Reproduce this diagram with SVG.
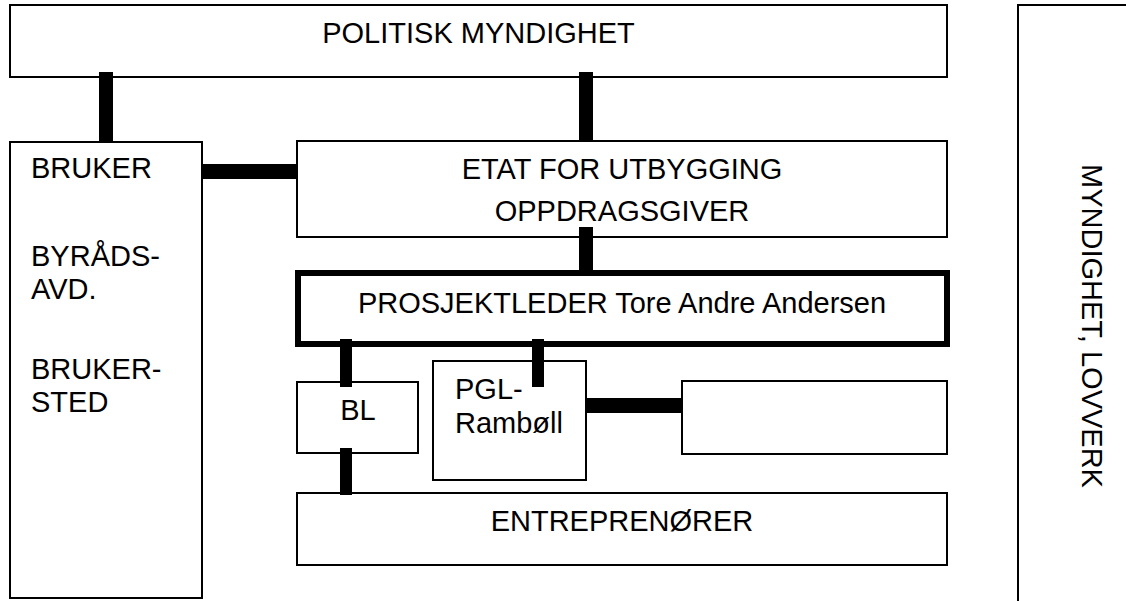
<svg xmlns="http://www.w3.org/2000/svg" width="1126" height="601" viewBox="0 0 1126 601">
<style>
.box{fill:#fff;stroke:#000;stroke-width:2}
.thick{fill:#fff;stroke:#000;stroke-width:6}
.t{font-family:"Liberation Sans",Arial,sans-serif;font-size:29px;fill:#000}
.m{text-anchor:middle}
.c{fill:#000}
</style>
<rect width="1126" height="601" fill="#fff"/>
<g id="politisk">
<rect class="box" x="10" y="5" width="937" height="72"/>
<text class="t m" x="478.5" y="43">POLITISK MYNDIGHET</text>
</g>
<g id="bruker">
<rect class="box" x="10" y="142" width="192" height="456"/>
<text class="t" x="31" y="178">BRUKER</text>
<text class="t" x="31" y="266">BYRÅDS-</text>
<text class="t" x="31" y="299">AVD.</text>
<text class="t" x="31" y="379">BRUKER-</text>
<text class="t" x="31" y="412">STED</text>
</g>
<g id="etat">
<rect class="box" x="297" y="141" width="650" height="96"/>
<text class="t m" x="622" y="179">ETAT FOR UTBYGGING</text>
<text class="t m" x="622" y="221">OPPDRAGSGIVER</text>
</g>
<g id="prosjektleder">
<rect class="thick" x="298" y="273" width="649" height="71"/>
<text class="t m" x="622" y="313">PROSJEKTLEDER Tore Andre Andersen</text>
</g>
<g id="bl">
<rect class="box" x="297" y="382" width="121" height="71"/>
<text class="t m" x="358" y="420">BL</text>
</g>
<g id="pgl">
<rect class="box" x="433" y="361" width="153" height="119"/>
<text class="t" x="455" y="399">PGL-</text>
<text class="t" x="455" y="433">Rambøll</text>
</g>
<g id="tom">
<rect class="box" x="682" y="381" width="265" height="73"/>
</g>
<g id="entreprenorer">
<rect class="box" x="297" y="493" width="650" height="72"/>
<text class="t m" x="622" y="531">ENTREPRENØRER</text>
</g>
<g id="myndighet">
<rect class="box" x="1018" y="5" width="200" height="700"/>
<text class="t m" transform="translate(1082,326) rotate(90)">MYNDIGHET, LOVVERK</text>
</g>
<g id="connectors">
<rect class="c" x="99" y="72" width="14" height="71"/>
<rect class="c" x="202" y="164" width="96" height="15"/>
<rect class="c" x="579" y="72" width="14" height="70"/>
<rect class="c" x="579" y="227" width="14" height="47"/>
<rect class="c" x="340" y="339" width="12" height="48"/>
<rect class="c" x="532" y="339" width="12" height="48"/>
<rect class="c" x="340" y="448" width="12" height="47"/>
<rect class="c" x="586" y="398" width="96" height="15"/>
</g>
</svg>
